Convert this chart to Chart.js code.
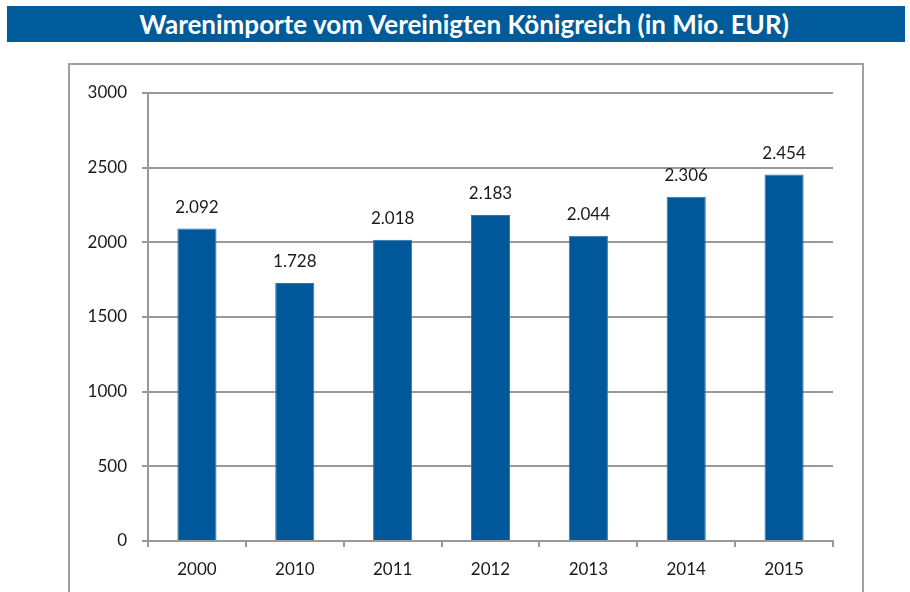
<!DOCTYPE html>
<html lang="de">
<head>
<meta charset="utf-8">
<script src="https://cdn.jsdelivr.net/npm/chart.js@4"></script>
<style>
  html, body { margin: 0; padding: 0; background: #fff; width: 910px; height: 592px; overflow: hidden; }
  #titel {
    position: absolute; left: 7px; top: 6px; width: 882px; height: 36px; padding-left: 16px;
    background: #005b9a; color: #fff;
    font: bold 26px Lato, sans-serif; line-height: 36px; text-align: center;
  }
  #rahmen {
    position: absolute; left: 68px; top: 63px; width: 792px; height: 600px;
    border: 2px solid #a0a0a0;
  }
  #chartImporte { position: absolute; left: 0; top: 0; }
</style>
</head>
<body>
<div id="titel">Warenimporte vom Vereinigten Königreich (in Mio. EUR)</div>
<div id="rahmen"></div>
<canvas id="chartImporte" width="910" height="592"></canvas>
<script>
// Daten
const jahre = ['2000', '2010', '2011', '2012', '2013', '2014', '2015'];
const importe = [2092, 1728, 2018, 2183, 2044, 2306, 2454];
const yTicks = [0, 500, 1000, 1500, 2000, 2500, 3000];

const blau = '#00589a';
const grau = '#999999';
const textFarbe = '#1a1a1a';
const schrift = { family: 'Lato', size: 17 };

// Zahlen im deutschen Format (2.092)
function formatDE(v) {
    return String(v).replace(/\B(?=(\d{3})+(?!\d))/g, '.');
}

// Werte über den Balken
const wertLabels = {
    id: 'wertLabels',
    afterDatasetsDraw(chart) {
        const ctx = chart.ctx;
        const meta = chart.getDatasetMeta(0);
        ctx.save();
        ctx.font = '17px Lato';
        ctx.fillStyle = textFarbe;
        ctx.textAlign = 'center';
        ctx.textBaseline = 'middle';
        meta.data.forEach((bar, i) => {
            ctx.fillText(formatDE(importe[i]), bar.x, bar.y - 21);
        });
        ctx.restore();
    }
};

const ctx = document.getElementById('chartImporte').getContext('2d');
new Chart(ctx, {
    type: 'bar',
    data: {
        labels: jahre,
        datasets: [{
            data: importe,
            backgroundColor: blau,
            borderColor: '#2f74ad',
            borderWidth: 1,
            barPercentage: 0.4,
            categoryPercentage: 1
        }]
    },
    options: {
        responsive: false,
        animation: false,
        devicePixelRatio: 1,
        layout: { padding: { left: 0, right: 77, top: 93, bottom: 0 } },
        plugins: {
            legend: { display: false },
            tooltip: { enabled: false }
        },
        scales: {
            x: {
                offset: true,
                grid: {
                    offset: true,
                    drawOnChartArea: false,
                    drawTicks: true,
                    tickLength: 6,
                    color: grau,
                    lineWidth: 2
                },
                border: { color: grau, width: 2 },
                ticks: { color: textFarbe, font: schrift, padding: 12, maxRotation: 0 },
                afterFit(s) { s.height = 51; }
            },
            y: {
                min: 0,
                max: 3000,
                afterBuildTicks(s) { s.ticks = yTicks.map(v => ({ value: v })); },
                grid: { color: grau, lineWidth: 2, tickLength: 6 },
                border: { color: grau, width: 2 },
                ticks: {
                    color: textFarbe,
                    font: schrift,
                    padding: 15,
                    callback: v => String(v)
                },
                afterFit(s) { s.width = 148; }
            }
        }
    },
    plugins: [wertLabels]
});
</script>
</body>
</html>
